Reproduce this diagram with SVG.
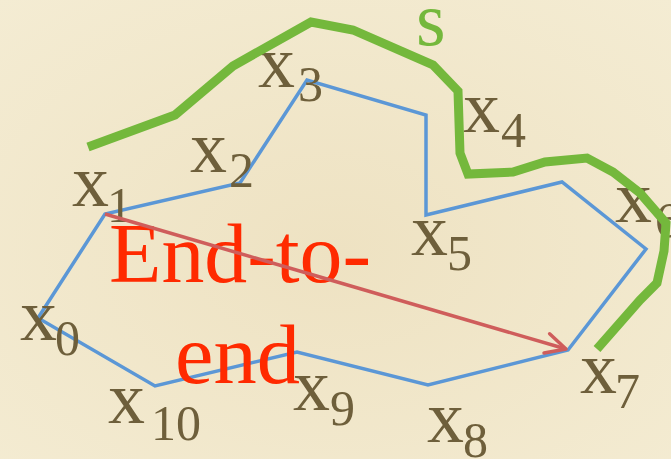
<svg xmlns="http://www.w3.org/2000/svg" width="671" height="459" viewBox="0 0 671 459">
<defs>
<radialGradient id="bg" cx="0.5" cy="0.55" r="0.75">
<stop offset="0" stop-color="#eee2c2"/>
<stop offset="1" stop-color="#f4ecd3"/>
</radialGradient>
<marker id="chev" viewBox="0 0 26 26" refX="23" refY="13" markerWidth="26" markerHeight="26" markerUnits="userSpaceOnUse" orient="auto">
<path d="M3,3 L23,13 L3,23" fill="none" stroke="#cf5d5b" stroke-width="3.5" stroke-linecap="round" stroke-linejoin="round"/>
</marker>
<style>
.lbl{font-family:"Liberation Serif","DejaVu Serif",serif;fill:#6e5f3b}
.b{font-size:74px}
.s{font-size:50px}
.big{font-family:"Liberation Serif","DejaVu Serif",serif;font-size:84px;fill:#ff2a00}
.poly{fill:none;stroke:#5b97d6;stroke-width:3.5;stroke-linejoin:miter}
.green{fill:none;stroke:#74b83c;stroke-width:9;stroke-linejoin:miter;stroke-linecap:butt}
.red{fill:none;stroke:#cf5d5b;stroke-width:3.5}
</style>
</defs>
<rect width="671" height="459" fill="url(#bg)"/>
<g id="connectors">
<path id="polygon" class="poly" d="M38,318 L105,214 L240,183 L307,80 L426,115 L426,215 L562,182 L646,249 L568,350 L428,385 L297,352 L155,386 Z"/>
</g>
<g id="x0" class="lbl"><text class="b" x="20" y="340">x</text><text class="s" x="55" y="355">0</text></g>
<g id="x1" class="lbl"><text class="b" x="72" y="206">x</text><text class="s" x="107" y="222">1</text></g>
<g id="x2" class="lbl"><text class="b" x="190" y="172">x</text><text class="s" x="229" y="187">2</text></g>
<g id="x3" class="lbl"><text class="b" x="258" y="87">x</text><text class="s" x="298" y="101">3</text></g>
<g id="x4" class="lbl"><text class="b" x="463" y="132">x</text><text class="s" x="501" y="147">4</text></g>
<g id="x5" class="lbl"><text class="b" x="411" y="255">x</text><text class="s" x="447" y="270">5</text></g>
<g id="x6" class="lbl"><text class="b" x="615" y="222">x</text><text class="s" x="655" y="237">6</text></g>
<g id="x7" class="lbl"><text class="b" x="580" y="393">x</text><text class="s" x="615" y="408">7</text></g>
<g id="x8" class="lbl"><text class="b" x="427" y="442">x</text><text class="s" x="463" y="457">8</text></g>
<g id="x9" class="lbl"><text class="b" x="293" y="410">x</text><text class="s" x="330" y="425">9</text></g>
<g id="x10" class="lbl"><text class="b" x="108" y="423">x</text><text class="s" x="151" y="440">10</text></g>
<g id="caption"><text class="big" x="109" y="282" textLength="262" lengthAdjust="spacingAndGlyphs">End-to-</text><text class="big" x="175" y="383" textLength="125" lengthAdjust="spacingAndGlyphs">end</text></g>
<g id="connectors-top">
<path id="end-to-end" class="red" d="M105,214 L566,349" marker-end="url(#chev)"/>
<path id="curve-s" class="green" d="M88,147 L175,115 L233,66 L311,22 L353,30 L433,65 L458,91 L460,153 L468,174 L513,172 L545,162 L587,158 L613,172 L640,193 L666,223 L664,251 L657,283 L640,300 L597,349"/>
</g>
<g id="s-label"><text x="416" y="45" style="font-family:'Liberation Serif','DejaVu Serif',serif;font-size:76px;fill:#74b83c">s</text></g>
</svg>
